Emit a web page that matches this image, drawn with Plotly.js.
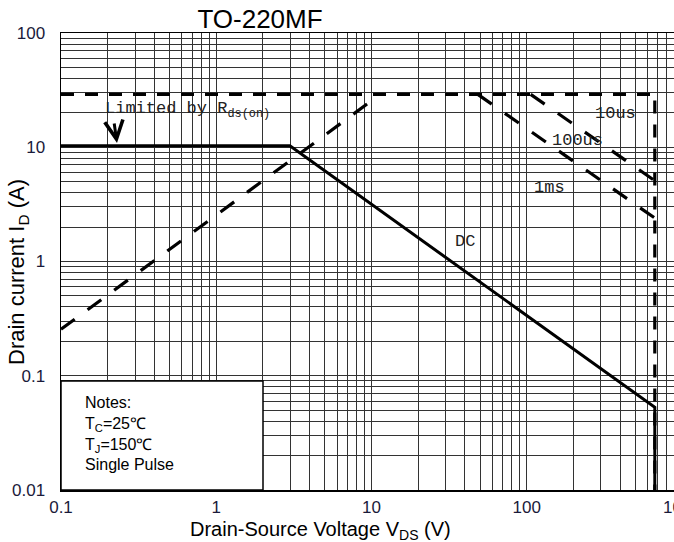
<!DOCTYPE html>
<html>
<head>
<meta charset="utf-8">
<script src="https://cdn.plot.ly/plotly-3.0.1.min.js"></script>
<style>
html,body{margin:0;padding:0;overflow:hidden;background:#fff;width:674px;height:542px;}
#chart{width:720px;height:542px;}
</style>
</head>
<body>
<div id="chart"></div>
<script>
// ---- data ----
const dcVoltage   = [0.1, 2.98, 668, 668];
const dcCurrent   = [10.3, 10.3, 0.053, 0.01];
const limVoltage  = [0.1, 668, 668];
const limCurrent  = [29, 29, 0.01];
const rdsVoltage  = [0.1, 10];
const rdsCurrent  = [0.255, 25.5];
const us100Voltage = [106, 668];
const us100Current = [29, 5.1];
const ms1Voltage   = [48.4, 668];
const ms1Current   = [29, 2.4];
const xTickVals = [0.1, 1, 10, 100, 1000];
const xTickText = ['0.1', '1', '10', '100', '1000'];
const yTickVals = [0.01, 0.1, 1, 10, 100];
const yTickText = ['0.01', '0.1', '1', '10', '100'];

const W = 720, H = 542;
const mL = 61, mR = 38, mT = 33, mB = 52;
const pw = W - mL - mR, ph = H - mT - mB;
const xDec = pw / 4, yDec = ph / 4;
const px2lx = p => -1 + (p - mL) / xDec;
const px2ly = p => 2 - (p - mT) / yDec;
const pxX = p => (p - mL) / pw;
const pxY = p => 1 - (p - mT) / ph;

const lineCol = '#000';
const traces = [
  {x: limVoltage, y: limCurrent, mode: 'lines', line: {color: lineCol, width: 3.2, dash: '13px,11px'}, hoverinfo: 'skip'},
  {x: rdsVoltage, y: rdsCurrent, mode: 'lines', line: {color: lineCol, width: 3.2, dash: '17px,16px'}, hoverinfo: 'skip'},
  {x: us100Voltage, y: us100Current, mode: 'lines', line: {color: lineCol, width: 3.2, dash: '17px,16px'}, hoverinfo: 'skip'},
  {x: ms1Voltage, y: ms1Current, mode: 'lines', line: {color: lineCol, width: 3.2, dash: '17px,16px'}, hoverinfo: 'skip'},
  {x: dcVoltage, y: dcCurrent, mode: 'lines', line: {color: lineCol, width: 3}, hoverinfo: 'skip'}
];

const serif = 'Liberation Mono, Courier New, monospace';
const sans = 'Liberation Sans, Arial, sans-serif';
const tickFont = {family: sans, size: 17, color: '#1a1a3a'};
const gridCol = '#333';

const layout = {
  width: W, height: H,
  margin: {l: mL, r: mR, t: mT, b: mB},
  paper_bgcolor: '#fff', plot_bgcolor: '#fff',
  showlegend: false,
  title: {text: 'TO-220MF', x: 260 / W, xref: 'container', xanchor: 'center',
          y: 1 - 19 / H, yref: 'container', yanchor: 'middle',
          font: {family: sans, size: 26, color: '#000'}},
  xaxis: {type: 'log', range: [-1, 3], tickmode: 'array', tickvals: xTickVals, ticktext: xTickText,
          tickfont: tickFont, ticks: '', ticklabelstandoff: 1,
          showgrid: true, gridcolor: gridCol, gridwidth: 1,
          minor: {dtick: 'D1', showgrid: true, gridcolor: gridCol, gridwidth: 1, ticks: ''},
          showline: true, linecolor: '#000', linewidth: 1.5, mirror: true, zeroline: false, fixedrange: true},
  yaxis: {type: 'log', range: [-2, 2], tickmode: 'array', tickvals: yTickVals, ticktext: yTickText,
          tickfont: tickFont, ticks: '', ticklabelstandoff: 11,
          showgrid: true, gridcolor: gridCol, gridwidth: 1,
          minor: {dtick: 'D1', showgrid: true, gridcolor: gridCol, gridwidth: 1, ticks: ''},
          showline: true, linecolor: '#000', linewidth: 1.5, mirror: true, zeroline: false, fixedrange: true},
  shapes: [
    {type: 'rect', xref: 'paper', yref: 'paper', x0: 0, x1: pxX(263), y0: 0, y1: pxY(381),
     fillcolor: '#fff', line: {color: '#000', width: 1.5}, layer: 'above'}
  ],
  annotations: [
    {xref: 'paper', yref: 'paper', x: pxX(83), y: pxY(433), xanchor: 'left', yanchor: 'middle', align: 'left',
     showarrow: false, font: {family: sans, size: 16, color: '#000'},
     text: 'Notes:<br>T<sub>C</sub>=25℃<br>T<sub>J</sub>=150℃<br>Single Pulse'},
    {xref: 'x', yref: 'y', x: px2lx(103), y: px2ly(110), xanchor: 'left', yanchor: 'middle', showarrow: false,
     font: {family: serif, size: 17, color: '#222'}, text: 'Limited by R<sub>ds(on)</sub>'},
    {xref: 'x', yref: 'y', x: px2lx(117), y: px2ly(143), ax: -3, ay: -21, showarrow: true, arrowhead: 5,
     arrowsize: 1.2, arrowwidth: 3, arrowcolor: '#000', text: ''},
    {xref: 'x', yref: 'y', x: px2lx(593), y: px2ly(113), xanchor: 'left', yanchor: 'middle', showarrow: false,
     font: {family: serif, size: 17, color: '#222'}, text: '10us'},
    {xref: 'x', yref: 'y', x: px2lx(550), y: px2ly(140), xanchor: 'left', yanchor: 'middle', showarrow: false,
     font: {family: serif, size: 17, color: '#222'}, text: '100us'},
    {xref: 'x', yref: 'y', x: px2lx(532), y: px2ly(187), xanchor: 'left', yanchor: 'middle', showarrow: false,
     font: {family: serif, size: 17, color: '#222'}, text: '1ms'},
    {xref: 'x', yref: 'y', x: px2lx(453), y: px2ly(241), xanchor: 'left', yanchor: 'middle', showarrow: false,
     font: {family: serif, size: 17, color: '#222'}, text: 'DC'},
    {xref: 'paper', yref: 'paper', x: pxX(320), y: pxY(530), xanchor: 'center', yanchor: 'middle', showarrow: false,
     font: {family: sans, size: 20, color: '#000'}, text: 'Drain-Source Voltage V<sub>DS</sub> (V)'},
    {xref: 'paper', yref: 'paper', x: pxX(18), y: pxY(272), xanchor: 'center', yanchor: 'middle', showarrow: false,
     textangle: -90, font: {family: sans, size: 22, color: '#000'}, text: 'Drain current I<sub>D</sub> (A)'}
  ]
};

Plotly.newPlot('chart', traces, layout, {displayModeBar: false, staticPlot: true});
</script>
</body>
</html>
